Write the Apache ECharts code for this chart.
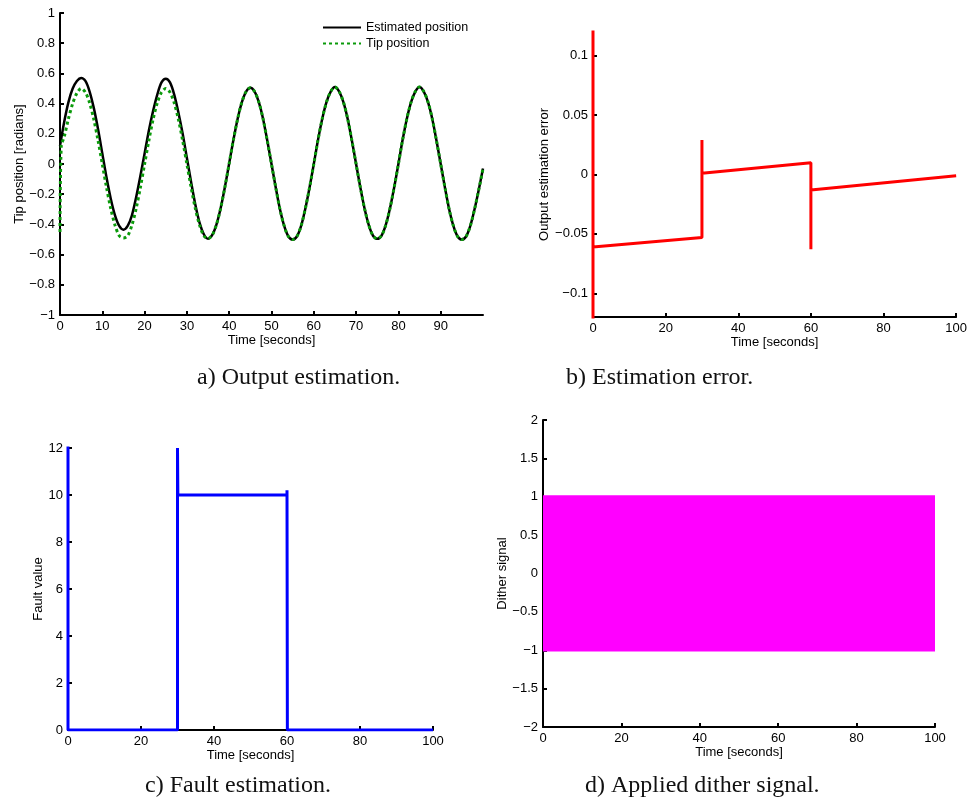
<!DOCTYPE html>
<html>
<head>
<meta charset="utf-8">
<script src="https://cdn.jsdelivr.net/npm/echarts@6/dist/echarts.min.js"></script>
<style>html,body{margin:0;padding:0;background:#fff}#c{width:970px;height:808px}</style>
</head>
<body>
<div id="c"></div>
<script>
// ---------- Panel a: Output estimation ----------
const estTime = [0,1,2,3,4,5,6,7,8,9,10,11,12,13,14,15,16,17,18,19,20,21,22,23,24,25,26,27,28,29,30,31,32,33,34,35,36,37,38,39,40,41,42,43,44,45,46,47,48,49,50,51,52,53,54,55,56,57,58,59,60,61,62,63,64,65,66,67,68,69,70,71,72,73,74,75,76,77,78,79,80,81,82,83,84,85,86,87,88,89,90,91,92,93,94,95,96,97,98,99,100];
const estPos = [0.12,0.28,0.41,0.50,0.55,0.57,0.55,0.48,0.37,0.23,0.07,-0.09,-0.23,-0.34,-0.41,-0.435,-0.41,-0.34,-0.22,-0.08,0.07,0.22,0.35,0.46,0.54,0.565,0.54,0.46,0.34,0.20,0.04,-0.12,-0.27,-0.39,-0.465,-0.495,-0.47,-0.40,-0.29,-0.15,0.005,0.16,0.30,0.41,0.48,0.505,0.48,0.41,0.30,0.155,0.0,-0.155,-0.30,-0.41,-0.48,-0.50,-0.48,-0.41,-0.295,-0.155,0.0,0.16,0.30,0.41,0.48,0.51,0.48,0.41,0.30,0.155,0.0,-0.155,-0.295,-0.405,-0.475,-0.495,-0.475,-0.405,-0.295,-0.155,0.0,0.16,0.30,0.41,0.48,0.51,0.48,0.41,0.30,0.155,0.0,-0.155,-0.30,-0.41,-0.48,-0.50,-0.48,-0.41,-0.30,-0.17,-0.03];
const tipTime = [0,0.3,1,2,3,4,5,6,7,8,9,10,11,12,13,14,15,16,17,18,19,20,21,22,23,24,25,26,27,28,29,30,31,32,33,34,35,36,37,38,39,40,41,42,43,44,45,46,47,48,49,50,51,52,53,54,55,56,57,58,59,60,61,62,63,64,65,66,67,68,69,70,71,72,73,74,75,76,77,78,79,80,81,82,83,84,85,86,87,88,89,90,91,92,93,94,95,96,97,98,99,100];
const tipPos = [-0.45,0.12,0.18,0.30,0.40,0.47,0.50,0.475,0.405,0.295,0.155,0.0,-0.155,-0.295,-0.405,-0.475,-0.49,-0.475,-0.405,-0.295,-0.155,0.0,0.155,0.295,0.405,0.475,0.50,0.475,0.405,0.295,0.155,0.0,-0.155,-0.295,-0.405,-0.475,-0.495,-0.47,-0.40,-0.29,-0.15,0.005,0.16,0.30,0.41,0.48,0.505,0.48,0.41,0.30,0.155,0.0,-0.155,-0.30,-0.41,-0.48,-0.50,-0.48,-0.41,-0.295,-0.155,0.0,0.16,0.30,0.41,0.48,0.51,0.48,0.41,0.30,0.155,0.0,-0.155,-0.295,-0.405,-0.475,-0.495,-0.475,-0.405,-0.295,-0.155,0.0,0.16,0.30,0.41,0.48,0.51,0.48,0.41,0.30,0.155,0.0,-0.155,-0.30,-0.41,-0.48,-0.50,-0.48,-0.41,-0.30,-0.17,-0.03];
const aXTicks = [0,10,20,30,40,50,60,70,80,90];
const aYTicks = [-1,-0.8,-0.6,-0.4,-0.2,0,0.2,0.4,0.6,0.8,1];

// ---------- Panel b: Estimation error ----------
const errTime = [0,0,0,30,30,30,60,60,60,100];
const errValue = [0.13,-0.13,-0.061,-0.053,0.029,0.001,0.0099,-0.063,-0.013,-0.001];
const bXTicks = [0,20,40,60,80,100];
const bYTicks = [-0.1,-0.05,0,0.05,0.1];

// ---------- Panel c: Fault estimation ----------
const faultTime = [0,0,0,0.1,30,30,30.1,60,60,60.1,100];
const faultValue = [13,2.1,0,0,0,12,10,10,10.2,0,0];
const cXTicks = [0,20,40,60,80,100];
const cYTicks = [0,2,4,6,8,10,12];

// ---------- Panel d: Applied dither signal (envelope of the high-frequency signal) ----------
const ditherTime = [0,100];
const ditherLower = [-1.015,-1.015];
const ditherUpper = [1.02,1.02];
const dXTicks = [0,20,40,60,80,100];
const dYTicks = [-2,-1.5,-1,-0.5,0,0.5,1,1.5,2];

const captions = ['a) Output estimation.','b) Estimation error.','c) Fault estimation.','d) Applied dither signal.'];

const pair = (xs, ys) => xs.map((x, i) => [x, ys[i]]);
const fmt = v => { const n = parseFloat(Number(v).toFixed(3)); return n < 0 ? '\u2212' + Math.abs(n) : String(n); };

const SANS = '"Liberation Sans", Arial, sans-serif';
const labelStyle = { color: '#000', fontFamily: SANS, fontSize: 13, margin: 5 };
const nameStyle = { color: '#000', fontFamily: SANS, fontSize: 13 };
const lineAx = { show: true, onZero: false, lineStyle: { color: '#000', width: 2 } };
const tickAx = vals => ({ show: true, inside: true, length: 4, lineStyle: { color: '#000', width: 2 }, customValues: vals });

function xAx(grid, max, ticks, nameGap) {
  return {
    type: 'value', gridIndex: grid, min: 0, max: max,
    name: 'Time [seconds]', nameLocation: 'middle', nameGap: nameGap, nameTextStyle: nameStyle,
    axisLine: lineAx, axisTick: tickAx(ticks),
    axisLabel: Object.assign({ customValues: ticks, formatter: fmt }, labelStyle),
    splitLine: { show: false }
  };
}
function yAx(grid, min, max, ticks, name, nameGap) {
  return {
    type: 'value', gridIndex: grid, min: min, max: max,
    name: name, nameLocation: 'middle', nameGap: nameGap, nameTextStyle: nameStyle,
    axisLine: lineAx, axisTick: tickAx(ticks),
    axisLabel: Object.assign({ customValues: ticks, formatter: fmt }, labelStyle),
    splitLine: { show: false }
  };
}

const chart = echarts.init(document.getElementById('c'), null, { renderer: 'canvas' });
const CAP = { fontFamily: '"Liberation Serif", "Times New Roman", serif', fontSize: 24, fontWeight: 'normal', color: '#111' };

chart.setOption({
  animation: false,
  backgroundColor: '#fff',
  title: [
    { text: captions[0], left: 197, top: 366, padding: 0, textStyle: CAP },
    { text: captions[1], left: 566, top: 366, padding: 0, textStyle: CAP },
    { text: captions[2], left: 145, top: 774, padding: 0, textStyle: CAP },
    { text: captions[3], left: 585, top: 774, padding: 0, textStyle: CAP }
  ],
  legend: {
    left: 317, top: 16, orient: 'vertical', itemGap: 3, itemWidth: 38, itemHeight: 10,
    itemStyle: { opacity: 0 },
    textStyle: { color: '#000', fontFamily: SANS, fontSize: 12.5 },
    data: ['Estimated position', 'Tip position']
  },
  grid: [
    { left: 60, top: 13, width: 423, height: 302 },
    { left: 593, top: 32, width: 365, height: 285 },
    { left: 68, top: 448, width: 365, height: 282 },
    { left: 543, top: 420, width: 392, height: 307 }
  ],
  xAxis: [
    xAx(0, 100, aXTicks, 16),
    xAx(1, 100, bXTicks, 17),
    xAx(2, 100, cXTicks, 16),
    xAx(3, 100, dXTicks, 19)
  ],
  yAxis: [
    yAx(0, -1, 1, aYTicks, 'Tip position [radians]', 33),
    yAx(1, -0.12, 0.12, bYTicks, 'Output estimation error', 38),
    yAx(2, 0, 12, cYTicks, 'Fault value', 22),
    yAx(3, -2, 2, dYTicks, 'Dither signal', 34)
  ],
  series: [
    { name: 'Estimated position', type: 'line', xAxisIndex: 0, yAxisIndex: 0, data: pair(estTime, estPos),
      smooth: 0.3, symbol: 'none', lineStyle: { color: '#000', width: 2.5 }, itemStyle: { color: '#000' }, z: 3 },
    { name: 'Tip position', type: 'line', xAxisIndex: 0, yAxisIndex: 0, data: pair(tipTime, tipPos),
      smooth: 0.3, symbol: 'none', lineStyle: { color: '#0a9a0a', width: 3, type: [3, 3] }, itemStyle: { color: '#0a9a0a' }, z: 4 },
    { name: 'err', type: 'line', xAxisIndex: 1, yAxisIndex: 1, data: pair(errTime, errValue),
      symbol: 'none', clip: true, lineStyle: { color: '#ff0000', width: 3 }, z: 4 },
    { name: 'fault', type: 'line', xAxisIndex: 2, yAxisIndex: 2, data: pair(faultTime, faultValue),
      symbol: 'none', clip: true, lineStyle: { color: '#0000ff', width: 3 }, z: 4 },
    { name: 'dither', type: 'custom', xAxisIndex: 3, yAxisIndex: 3,
      data: [[ditherTime[0], ditherLower[0]], [ditherTime[ditherTime.length - 1], ditherUpper[ditherUpper.length - 1]]],
      renderItem: (params, api) => {
        if (params.dataIndex !== 0) return null;
        const pts = [];
        ditherTime.forEach((t, i) => pts.push(api.coord([t, ditherUpper[i]])));
        for (let i = ditherTime.length - 1; i >= 0; i--) pts.push(api.coord([ditherTime[i], ditherLower[i]]));
        return { type: 'polygon', shape: { points: pts }, style: { fill: '#ff00ff', stroke: null } };
      },
      z: 2 }
  ]
});
</script>
</body>
</html>
